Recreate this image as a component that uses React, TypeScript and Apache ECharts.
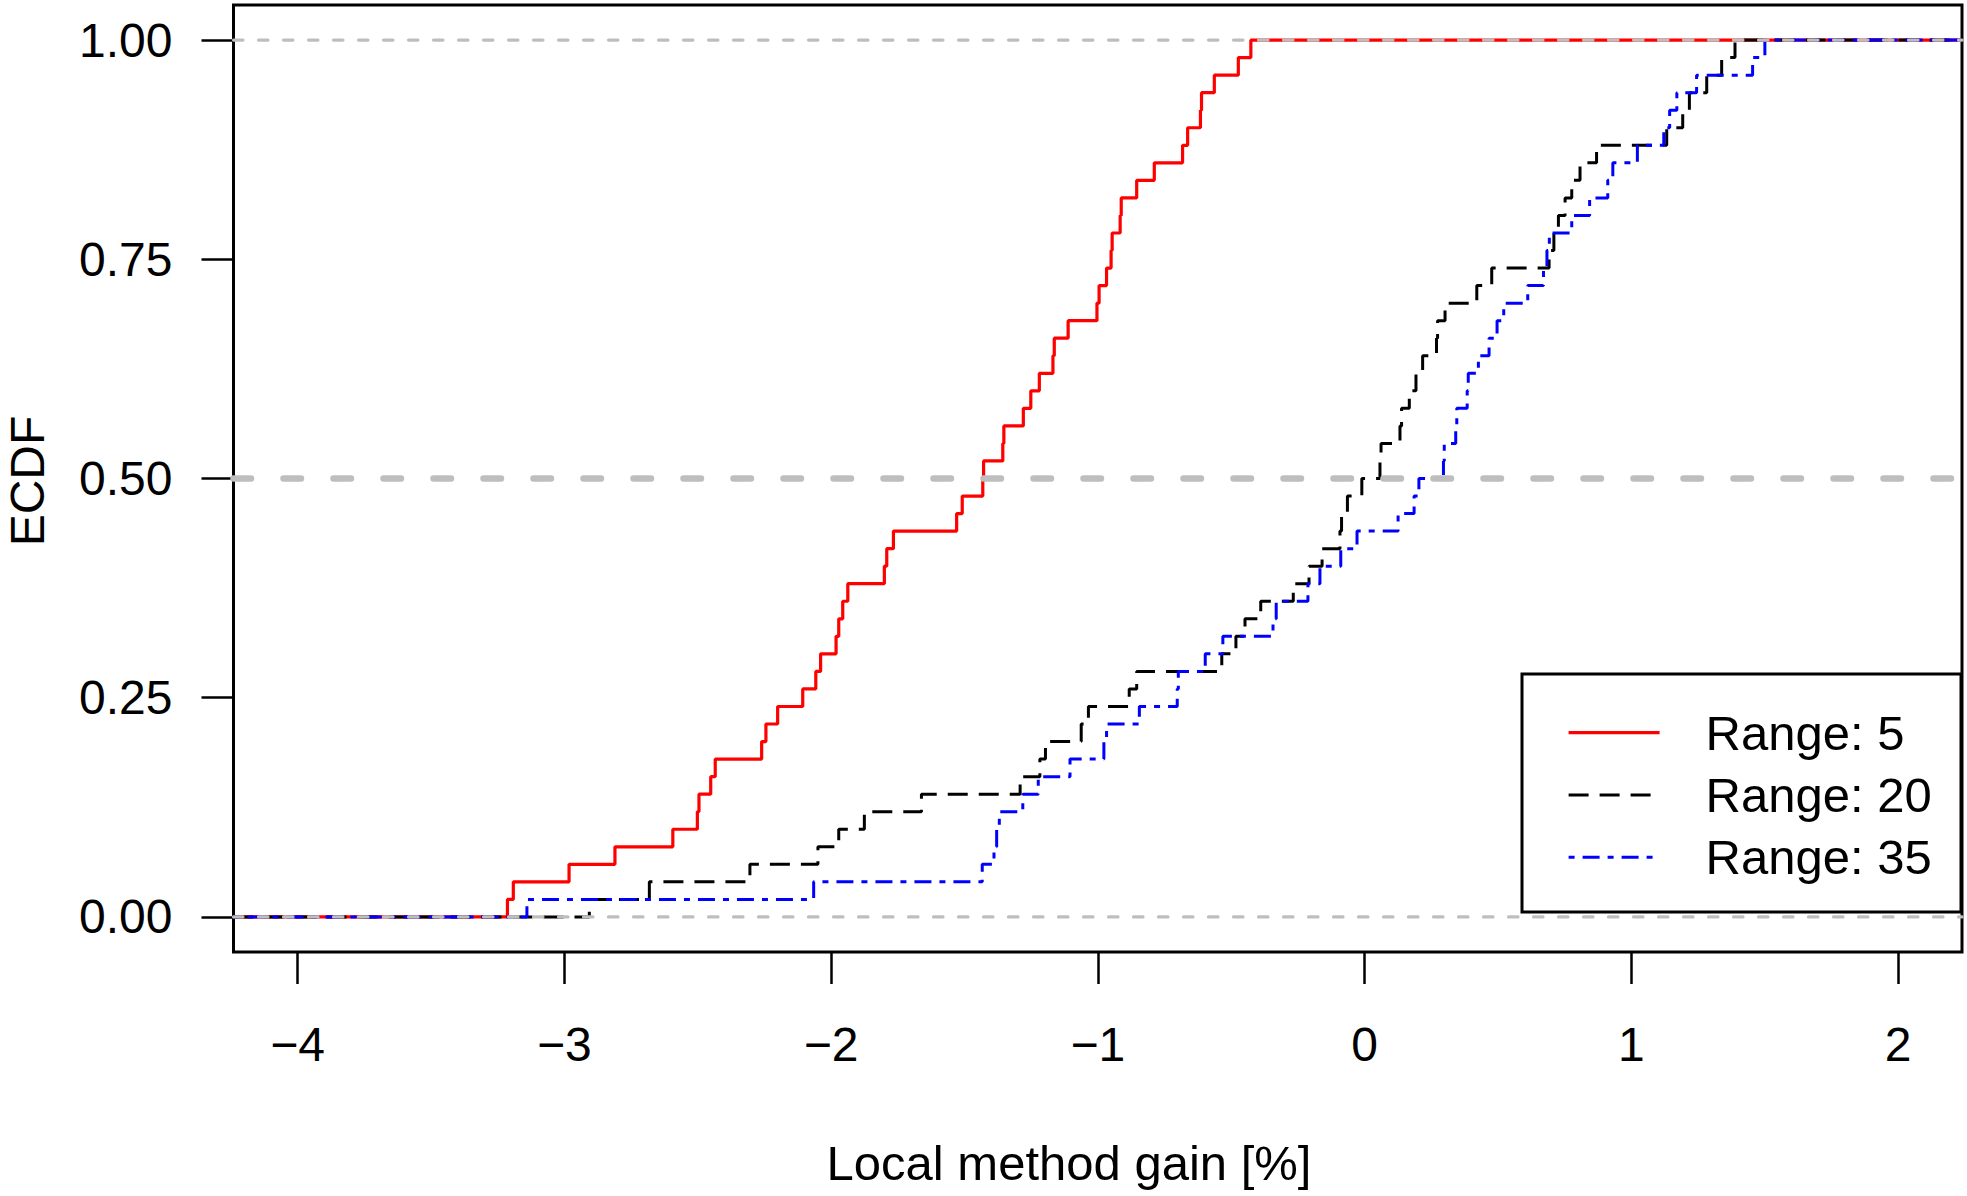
import React, { useEffect, useRef } from "react";
import * as echarts from "echarts";

const RANGE5 = [
  -3.213, -3.191, -2.982, -2.81, -2.593, -2.501, -2.495, -2.451, -2.434, -2.26,
  -2.244, -2.2, -2.106, -2.057, -2.039, -1.981, -1.971, -1.956, -1.937, -1.8,
  -1.791, -1.766, -1.529, -1.508, -1.431, -1.428, -1.356, -1.352, -1.279, -1.251,
  -1.219, -1.168, -1.163, -1.111, -1.003, -0.995, -0.967, -0.95, -0.946, -0.916,
  -0.912, -0.854, -0.788, -0.682, -0.663, -0.615, -0.611, -0.563, -0.473, -0.426,
];
const RANGE20 = [
  -2.906, -2.681, -2.304, -2.049, -1.971, -1.875, -1.661, -1.291, -1.217, -1.196,
  -1.062, -1.035, -0.882, -0.854, -0.535, -0.482, -0.448, -0.389, -0.267, -0.208,
  -0.159, -0.092, -0.086, -0.064, -0.01, 0.058, 0.062, 0.133, 0.139, 0.168,
  0.193, 0.218, 0.27, 0.274, 0.302, 0.421, 0.477, 0.692, 0.71, 0.727,
  0.752, 0.777, 0.808, 0.87, 1.133, 1.193, 1.218, 1.283, 1.339, 1.389,
];
const RANGE35 = [
  -3.14, -2.065, -1.433, -1.389, -1.379, -1.369, -1.281, -1.223, -1.104, -0.977,
  -0.967, -0.844, -0.702, -0.698, -0.597, -0.531, -0.343, -0.331, -0.212, -0.167,
  -0.089, -0.028, 0.126, 0.186, 0.204, 0.296, 0.299, 0.342, 0.346, 0.385,
  0.389, 0.427, 0.467, 0.497, 0.522, 0.612, 0.671, 0.684, 0.693, 0.777,
  0.844, 0.912, 0.931, 1.023, 1.122, 1.144, 1.171, 1.245, 1.455, 1.501,
];

const SERIES_NAMES = ["Range: 5", "Range: 20", "Range: 35"];
const X_TICKS = [-4, -3, -2, -1, 0, 1, 2];
const Y_TICKS = [0, 0.25, 0.5, 0.75, 1];
const REF_LEVELS = [0, 0.5, 1];

const X_MIN = -4.24;
const X_MAX = 2.24;
const Y_MIN = -0.04;
const Y_MAX = 1.04;

const FONT = "Liberation Sans, Arial, Helvetica, sans-serif";

function ecdfPoints(xs: number[]): number[][] {
  const sorted = [...xs].sort((a, b) => a - b);
  const n = sorted.length;
  return [[X_MIN, 0], ...sorted.map((x, i) => [x, (i + 1) / n]), [X_MAX, 1]];
}

const fmtX = (v: number) => (v < 0 ? "\u2212" + Math.abs(v) : String(v));

export default function App() {
  const ref = useRef<HTMLDivElement>(null);

  useEffect(() => {
    document.body.style.margin = "0";
    document.body.style.overflow = "hidden";
    const chart = echarts.init(ref.current!, null, { renderer: "svg" });

    const styles = [
      { color: "#FF0000", width: 3.2, type: "solid" as any },
      { color: "#000000", width: 3, type: [20, 11] as any },
      { color: "#0000FF", width: 3, type: [6, 8, 17, 8] as any },
    ];
    const datasets = [RANGE5, RANGE20, RANGE35];

    const mainSeries = datasets.map((d, i) => ({
      name: SERIES_NAMES[i],
      type: "line",
      step: "end",
      data: ecdfPoints(d),
      showSymbol: false,
      symbol: "none",
      lineStyle: styles[i],
      itemStyle: { color: styles[i].color },
      z: 2,
      silent: true,
    }));

    const refSeries = REF_LEVELS.map((lv) => ({
      name: "ref" + lv,
      type: "line",
      data: [
        [X_MIN, lv],
        [X_MAX, lv],
      ],
      showSymbol: false,
      symbol: "none",
      lineStyle:
        lv === 0.5
          ? { color: "#BEBEBE", width: 6.5, type: [17.5, 32.5], cap: "round" }
          : { color: "#BEBEBE", width: 3.2, type: [9.5, 15.5], cap: "round" },
      z: 3,
      silent: true,
    }));

    chart.setOption({
      animation: false,
      backgroundColor: "#FFFFFF",
      grid: {
        left: 233.5,
        top: 5,
        right: 5,
        bottom: 244,
        show: true,
        borderColor: "#000000",
        borderWidth: 3,
        backgroundColor: "transparent",
      },
      xAxis: {
        type: "value",
        min: X_MIN,
        max: X_MAX,
        axisLine: { show: false, onZero: false },
        splitLine: { show: false },
        axisTick: {
          show: true,
          customValues: X_TICKS,
          length: 32,
          lineStyle: { color: "#000000", width: 2.5 },
        },
        axisLabel: {
          customValues: X_TICKS,
          formatter: fmtX,
          fontSize: 48,
          color: "#000000",
          fontFamily: FONT,
          margin: 68,
        },
      },
      yAxis: {
        type: "value",
        min: Y_MIN,
        max: Y_MAX,
        axisLine: { show: false, onZero: false },
        splitLine: { show: false },
        axisTick: {
          show: true,
          customValues: Y_TICKS,
          length: 32,
          lineStyle: { color: "#000000", width: 2.5 },
        },
        axisLabel: {
          customValues: Y_TICKS,
          formatter: (v: number) => v.toFixed(2),
          fontSize: 48,
          color: "#000000",
          fontFamily: FONT,
          margin: 61,
        },
      },
      legend: {
        show: true,
        orient: "vertical",
        left: 1567,
        top: 707.6,
        padding: 0,
        itemWidth: 91,
        itemHeight: 50,
        itemGap: 12.3,
        z: 6,
        selectedMode: false,
        data: SERIES_NAMES.map((n, i) => ({
          name: n,
          lineStyle: styles[i],
          itemStyle: { color: "rgba(0,0,0,0)", borderWidth: 0, opacity: 0 },
        })),
        itemStyle: { color: "rgba(0,0,0,0)", borderWidth: 0, opacity: 0 },
        textStyle: {
          fontSize: 49,
          color: "#000000",
          fontFamily: FONT,
          lineHeight: 50,
          padding: [0, 0, 0, 41],
        },
      },
      graphic: [
        {
          type: "rect",
          z: 5,
          shape: { x: 1522, y: 674, width: 439, height: 238 },
          style: { fill: "#FFFFFF", stroke: "#000000", lineWidth: 3 },
        },
        {
          type: "text",
          x: 1069,
          y: 1163,
          style: {
            text: "Local method gain [%]",
            fontSize: 49,
            fontFamily: FONT,
            fill: "#000000",
            textAlign: "center",
            textVerticalAlign: "middle",
          },
        },
        {
          type: "text",
          x: 27,
          y: 481,
          rotation: Math.PI / 2,
          style: {
            text: "ECDF",
            fontSize: 48,
            lineHeight: 44,
            fontFamily: FONT,
            fill: "#000000",
            textAlign: "center",
            textVerticalAlign: "middle",
          },
        },
      ],
      series: [...mainSeries, ...refSeries],
    });

    return () => chart.dispose();
  }, []);

  return (
    <div
      ref={ref}
      style={{ position: "fixed", left: 0, top: 0, width: 1967, height: 1196 }}
    />
  );
}
